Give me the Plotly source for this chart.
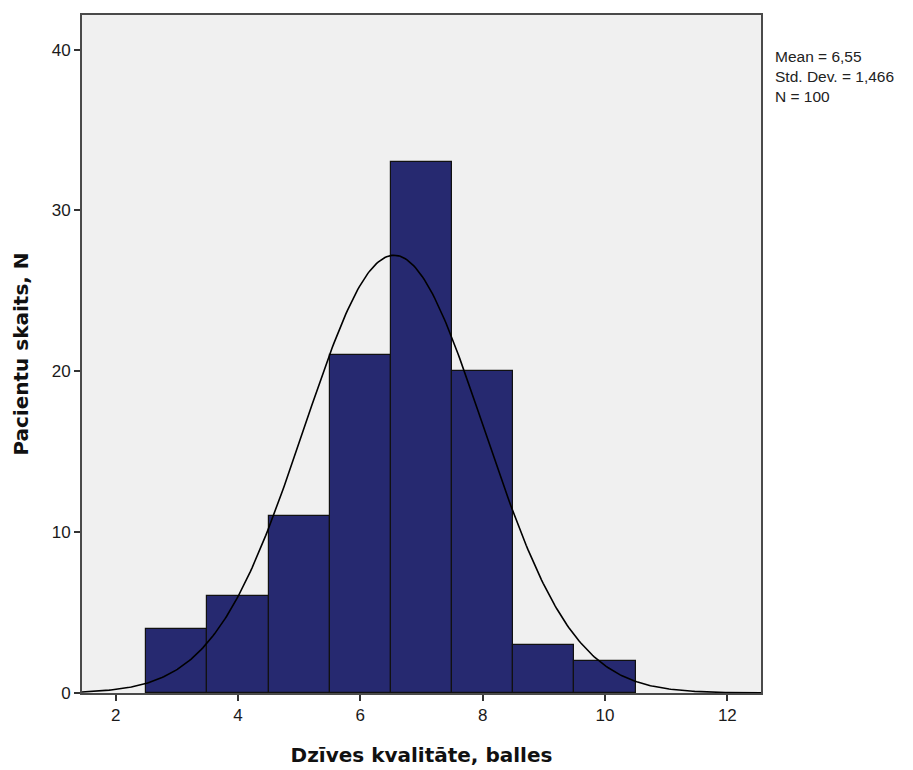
import numpy as np
import plotly.graph_objects as go

# Histogram of quality-of-life scores (bin centres and counts)
scores = [3, 4, 5, 6, 7, 8, 9, 10]
counts = [4, 6, 11, 21, 33, 20, 3, 2]

mean_val = 6.55
std_val = 1.466
n_total = 100
bin_width = 1

x_ticks = [2, 4, 6, 8, 10, 12]
y_ticks = [0, 10, 20, 30, 40]

stats_lines = ["Mean = 6,55", "Std. Dev. = 1,466", "N = 100"]

# Normal curve scaled to counts
xc = np.linspace(1.45, 12.55, 400)
yc = n_total * bin_width / (std_val * np.sqrt(2 * np.pi)) * np.exp(-0.5 * ((xc - mean_val) / std_val) ** 2)

fig = go.Figure()
fig.add_trace(go.Bar(
    x=scores, y=counts, width=bin_width,
    marker=dict(color="rgb(38,41,112)", line=dict(color="#111111", width=1.2)),
    showlegend=False, hoverinfo="skip",
))
fig.add_trace(go.Scatter(
    x=xc, y=yc, mode="lines",
    line=dict(color="black", width=1.6),
    showlegend=False, hoverinfo="skip",
))

tick_font = "Liberation Sans, Arial, sans-serif"
title_font = "DejaVu Sans, Verdana, sans-serif"

fig.update_layout(
    width=913, height=770,
    margin=dict(l=82, r=152, t=15, b=77),
    paper_bgcolor="white",
    plot_bgcolor="#f0f0f0",
    bargap=0,
    font=dict(family=tick_font, size=17, color="#1a1a1a"),
    xaxis=dict(
        range=[1.45, 12.55], tickvals=x_ticks, ticks="outside", ticklen=6,
        tickcolor="#333333", tickwidth=1.5, showgrid=False, zeroline=False,
        showline=True, linecolor="#4a4a4a", linewidth=2, mirror=True,
        tickfont=dict(size=17), automargin=False,
        title=dict(text="<b>Dzīves kvalitāte, balles</b>",
                   font=dict(size=20, family=title_font, color="#111111"), standoff=24),
    ),
    yaxis=dict(
        range=[0, 42.15], tickvals=y_ticks, ticks="outside", ticklen=6,
        tickcolor="#333333", tickwidth=1.5, showgrid=False, zeroline=False,
        showline=True, linecolor="#4a4a4a", linewidth=2, mirror=True,
        tickfont=dict(size=17), automargin=False,
        title=dict(text="<b>Pacientu skaits, N</b>",
                   font=dict(size=20, family=title_font, color="#111111"), standoff=18),
    ),
)

# Summary statistics block
fig.add_annotation(
    text="<br>".join(stats_lines), xref="paper", yref="paper",
    x=1.0177, y=0.910,
    xanchor="left", yanchor="middle", align="left", showarrow=False,
    font=dict(size=15.5, family=tick_font, color="#222222"),
)

fig.write_html("out.html")
